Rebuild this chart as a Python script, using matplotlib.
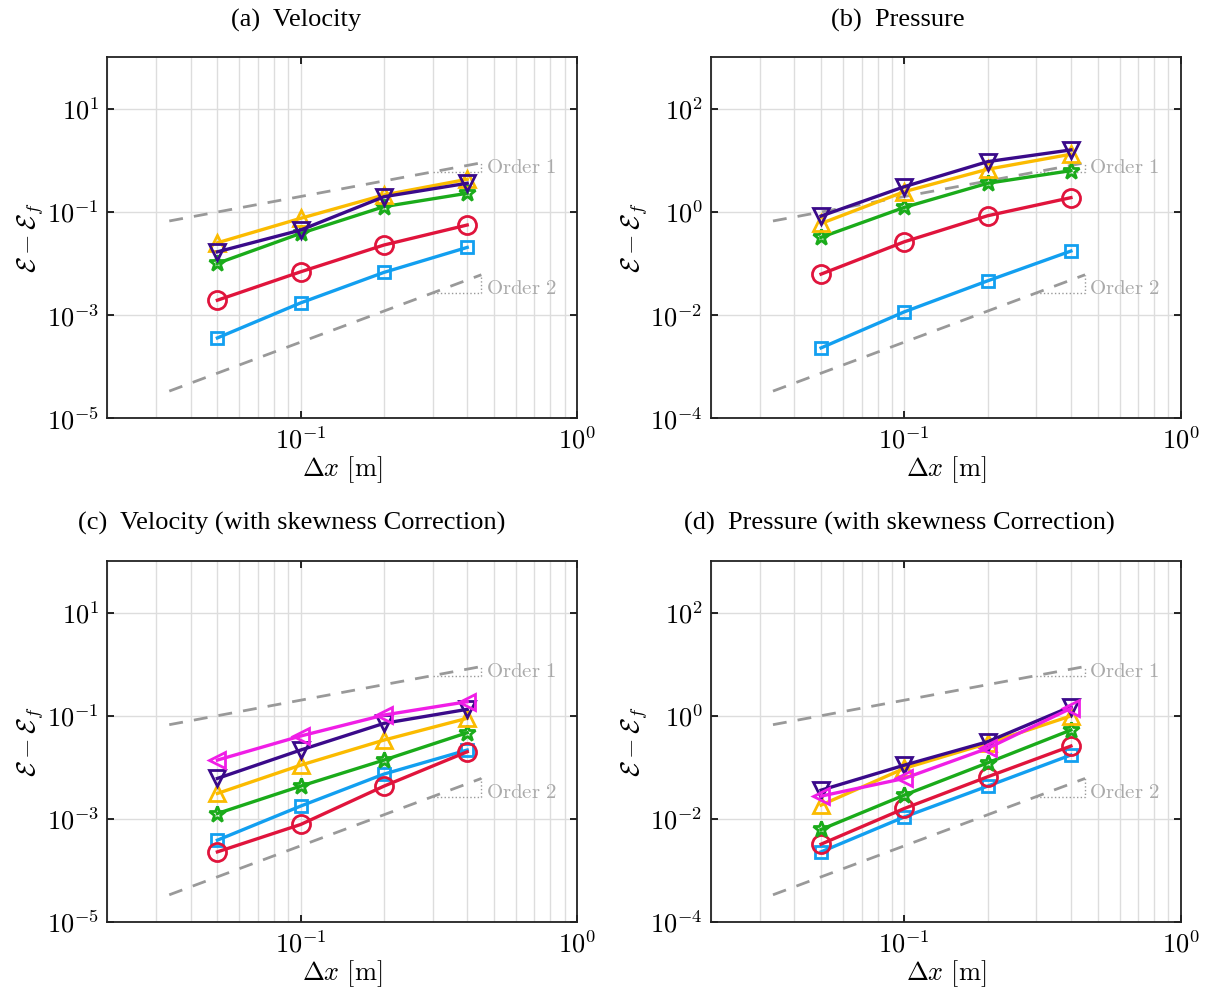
import numpy as np
import matplotlib
matplotlib.use("Agg")
import matplotlib.pyplot as plt
from matplotlib.ticker import FixedLocator, LogLocator, NullLocator, NullFormatter, FuncFormatter

plt.rcParams["mathtext.fontset"] = "cm"
plt.rcParams["font.family"] = ["Liberation Serif", "DejaVu Serif"]

# ===================== data =====================

dx = [0.05, 0.1, 0.2, 0.4]

# (a) velocity
vel_sq = [3.62e-4, 1.73e-3, 6.75e-3, 0.0206]
vel_circ = [1.95e-3, 6.93e-3, 0.0229, 0.056]
vel_star = [0.0101, 0.0385, 0.127, 0.231]
vel_up = [0.0253, 0.0755, 0.214, 0.431]
vel_down = [0.0169, 0.0447, 0.198, 0.361]

# (b) pressure
pres_sq = [2.32e-3, 0.0116, 0.0463, 0.175]
pres_circ = [0.0625, 0.265, 0.847, 1.90]
pres_star = [0.323, 1.23, 3.61, 6.34]
pres_up = [0.60, 2.48, 6.75, 13.2]
pres_down = [0.836, 3.10, 9.48, 16.0]

# (c) velocity, skewness corrected
velc_sq = [3.86e-4, 1.77e-3, 7.38e-3, 0.0216]
velc_circ = [2.29e-4, 7.78e-4, 4.31e-3, 0.020]
velc_star = [1.27e-3, 4.31e-3, 0.0138, 0.0468]
velc_up = [3.11e-3, 0.0110, 0.0337, 0.0891]
velc_down = [6.08e-3, 0.0216, 0.0711, 0.133]
velc_left = [0.0138, 0.0404, 0.103, 0.187]

# (d) pressure, skewness corrected
presc_sq = [2.29e-3, 0.0109, 0.0431, 0.173]
presc_circ = [3.23e-3, 0.0159, 0.0654, 0.258]
presc_star = [6.22e-3, 0.0289, 0.122, 0.528]
presc_up = [0.0185, 0.0953, 0.291, 0.99]
presc_down = [0.036, 0.110, 0.313, 1.50]
presc_left = [0.0276, 0.0609, 0.233, 1.39]

titles = ["(a)  Velocity", "(b)  Pressure",
          "(c)  Velocity (with skewness Correction)",
          "(d)  Pressure (with skewness Correction)"]

# reference slope lines: y = coef * x^order
ref_x = [0.0335, 0.45]
ref_tri_x = 0.3
order1_coef = [2.0, 20.0, 2.0, 20.0]
order2_coef = [0.03, 0.3, 0.03, 0.3]

# ===================== styles =====================

STYLE = {
    "sq": ("#129ff0", "s", 9),
    "circ": ("#e0143c", "o", 13),
    "star": ("#1aab1a", "*", 12),
    "up": ("#fbbb00", "^", 11),
    "down": ("#3a0a8a", "v", 11),
    "left": ("#f01ee6", "<", 11),
}

panels = [
    ([("sq", vel_sq), ("circ", vel_circ), ("star", vel_star),
      ("up", vel_up), ("down", vel_down)], (1e-5, 1e2), [1e-5, 1e-3, 1e-1, 1e1]),
    ([("sq", pres_sq), ("circ", pres_circ), ("star", pres_star),
      ("up", pres_up), ("down", pres_down)], (1e-4, 1e3), [1e-4, 1e-2, 1e0, 1e2]),
    ([("sq", velc_sq), ("circ", velc_circ), ("star", velc_star),
      ("up", velc_up), ("down", velc_down), ("left", velc_left)], (1e-5, 1e2), [1e-5, 1e-3, 1e-1, 1e1]),
    ([("sq", presc_sq), ("circ", presc_circ), ("star", presc_star),
      ("up", presc_up), ("down", presc_down), ("left", presc_left)], (1e-4, 1e3), [1e-4, 1e-2, 1e0, 1e2]),
]

W, H = 1208, 989
axes_px = [(107.3, 57.3), (711.0, 57.3), (107.3, 561.0), (711.0, 561.0)]
AX_W, AX_H = 470.0, 361.0
title_px = [(296, 20), (898, 20), (292, 523), (899, 523)]

pow_fmt = FuncFormatter(lambda v, p: r"$10^{%d}$" % int(round(np.log10(v))))


def draw_ref(ax, coef, order, label):
    xs = np.array(ref_x)
    ax.plot(xs, coef * xs ** order, ls=(0, (5, 4)), color="#999999", lw=2.0, zorder=2)
    y0 = coef * ref_tri_x ** order
    y1 = coef * ref_x[1] ** order
    ax.plot([ref_tri_x, ref_x[1], ref_x[1]], [y0, y0, y1], ls=":", color="#999999", lw=1.0, zorder=2)
    ax.annotate(label, (ref_x[1], y0), xytext=(3, 2.5),
                textcoords="offset points", ha="left", va="center",
                color="#aaaaaa", fontsize=15)


fig = plt.figure(figsize=(W / 100, H / 100), dpi=100)

for i, (series, ylim, yticks) in enumerate(panels):
    x0, y0 = axes_px[i]
    ax = fig.add_axes([x0 / W, 1 - (y0 + AX_H) / H, AX_W / W, AX_H / H])
    ax.set_xscale("log")
    ax.set_yscale("log")

    draw_ref(ax, order1_coef[i], 1, r"$\mathrm{Order\ 1}$")
    draw_ref(ax, order2_coef[i], 2, r"$\mathrm{Order\ 2}$")

    for key, vals in series:
        c, m, ms = STYLE[key]
        ax.plot(dx, vals, color=c, lw=2.4, marker=m, ms=ms, mfc="none",
                mec=c, mew=2.0, zorder=3)

    ax.set_xlim(0.02, 1.0)
    ax.set_ylim(*ylim)
    ax.xaxis.set_major_locator(FixedLocator([0.1, 1.0]))
    ax.xaxis.set_minor_locator(LogLocator(base=10, subs=np.arange(2, 10) * 1.0, numticks=20))
    ax.xaxis.set_minor_formatter(NullFormatter())
    ax.xaxis.set_major_formatter(pow_fmt)
    ax.yaxis.set_major_locator(FixedLocator(yticks))
    ax.yaxis.set_minor_locator(NullLocator())
    ax.yaxis.set_major_formatter(pow_fmt)

    ax.grid(True, which="both", axis="x", color="#dddddd", lw=1.0)
    ax.grid(True, which="major", axis="y", color="#dddddd", lw=1.0)
    ax.set_axisbelow(True)

    ax.tick_params(which="both", direction="in", top=True, right=True, labelsize=19)
    ax.tick_params(which="major", length=5, width=1.2, pad=6)
    ax.tick_params(which="minor", length=0)
    for s in ax.spines.values():
        s.set_linewidth(1.3)
        s.set_color("#222222")

    ax.set_xlabel(r"$\Delta x\ [\mathrm{m}]$", fontsize=19, labelpad=1)
    ax.set_ylabel(r"$\mathcal{E} - \mathcal{E}_f$", fontsize=19)
    ax.yaxis.set_label_coords(-0.13, 0.5)

    tx, ty = title_px[i]
    fig.text(tx / W, 1 - ty / H, titles[i], ha="center", va="center", fontsize=19)

fig.savefig("out.png", dpi=100)
